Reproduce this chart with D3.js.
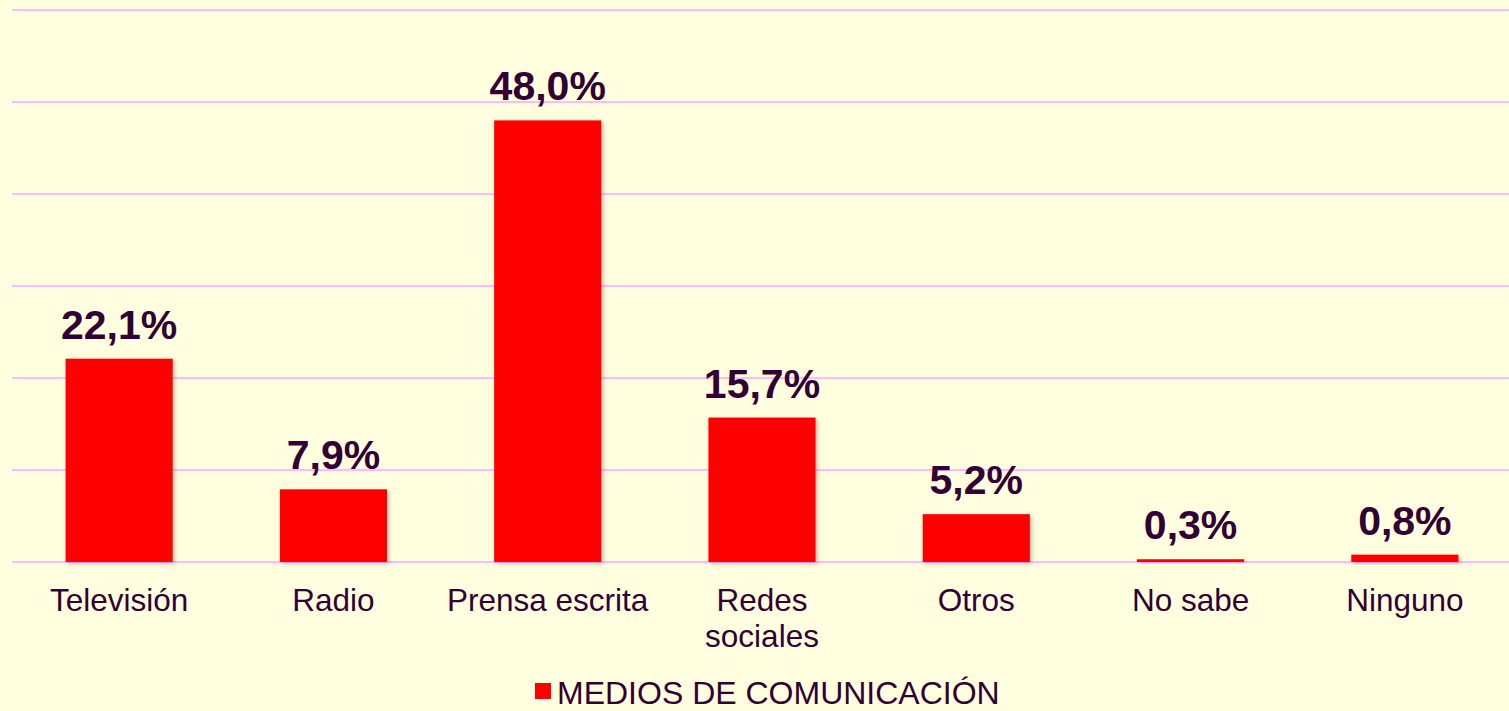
<!DOCTYPE html>
<html>
<head>
<meta charset="utf-8">
<script src="https://cdn.jsdelivr.net/npm/d3@7"></script>
<style>
  body { margin: 0; background: #FFFFE0; }
  svg { display: block; font-family: "Liberation Sans", Arial, sans-serif; }
</style>
</head>
<body>
<svg width="1509" height="711"></svg>
<script>
// chart data
var categories = ["Televisión", "Radio", "Prensa escrita", "Redes sociales", "Otros", "No sabe", "Ninguno"];
var values = [22.1, 7.9, 48.0, 15.7, 5.2, 0.3, 0.8];
var yTicks = [0, 10, 20, 30, 40, 50, 60];
var seriesName = "MEDIOS DE COMUNICACIÓN";

var data = categories.map(function(c, i) {
  return { category: c, value: values[i] };
});

// Setup SVG canvas w/ margin
var svg = d3.select("svg"),
  margin = { top: 10, right: -3, bottom: 149, left: 12 },
  width = +svg.attr("width") - margin.left - margin.right,
  height = +svg.attr("height") - margin.top - margin.bottom,
  g = svg.append("g")
    .attr("transform", "translate(" + margin.left + "," + margin.top + ")");

svg.insert("rect", ":first-child")
  .attr("width", 1509).attr("height", 711)
  .attr("fill", "#FFFFE0");

// soft shadow under the bars
var defs = svg.append("defs");
var f = defs.append("filter").attr("id", "shadow")
  .attr("x", "-10%").attr("y", "-10%").attr("width", "130%").attr("height", "150%");
f.append("feDropShadow")
  .attr("dx", 2).attr("dy", 2).attr("stdDeviation", 2)
  .attr("flood-color", "#000").attr("flood-opacity", 0.25);

var x = d3.scaleBand()
  .range([0, width])
  .paddingInner(0.5)
  .paddingOuter(0.25)
  .domain(categories);

var y = d3.scaleLinear()
  .range([height, 0])
  .domain([0, 60]);

// gridlines
g.selectAll(".grid")
  .data(yTicks)
  .enter()
  .append("line")
  .attr("class", "grid")
  .attr("x1", 0)
  .attr("x2", width)
  .attr("y1", function(d) { return y(d); })
  .attr("y2", function(d) { return y(d); })
  .attr("stroke", "#FFBBFF")
  .attr("stroke-width", 2);

// bars
g.selectAll(".bar")
  .data(data)
  .enter()
  .append("rect")
  .attr("class", "bar")
  .attr("x", function(d) { return x(d.category); })
  .attr("y", function(d) { return y(d.value); })
  .attr("width", x.bandwidth())
  .attr("height", function(d) { return height - y(d.value); })
  .attr("fill", "#FF0000")
  .attr("filter", "url(#shadow)");

// value labels
g.selectAll(".label")
  .data(data)
  .enter()
  .append("text")
  .attr("class", "label")
  .attr("x", function(d) { return x(d.category) + x.bandwidth() / 2; })
  .attr("y", function(d) { return y(d.value) - 20; })
  .attr("text-anchor", "middle")
  .attr("fill", "#330033")
  .style("font-size", "41px")
  .style("font-weight", "bold")
  .text(function(d) { return d.value.toFixed(1).replace(".", ",") + "%"; });

// x axis labels (wrap two-word long ones like the original)
var xaxis = g.append("g")
  .attr("transform", "translate(0," + height + ")")
  .call(d3.axisBottom(x).tickSize(0).tickPadding(0));
xaxis.select(".domain").remove();
xaxis.selectAll("text").remove();
xaxis.selectAll(".tick").each(function(d) {
  var t = d3.select(this).append("text")
    .attr("fill", "#330033")
    .attr("text-anchor", "middle")
    .style("font-size", "31.5px");
  var lines = d === "Redes sociales" ? ["Redes", "sociales"] : [d];
  lines.forEach(function(l, i) {
    t.append("tspan").attr("x", 0).attr("y", 49 + i * 36).text(l);
  });
});

// legend
var legend = svg.append("g").attr("transform", "translate(535,683)");
legend.append("rect")
  .attr("width", 16).attr("height", 16)
  .attr("fill", "#FF0000");
legend.append("text")
  .attr("x", 22).attr("y", 21)
  .attr("fill", "#330033")
  .style("font-size", "32px")
  .text(seriesName);
</script>
</body>
</html>
